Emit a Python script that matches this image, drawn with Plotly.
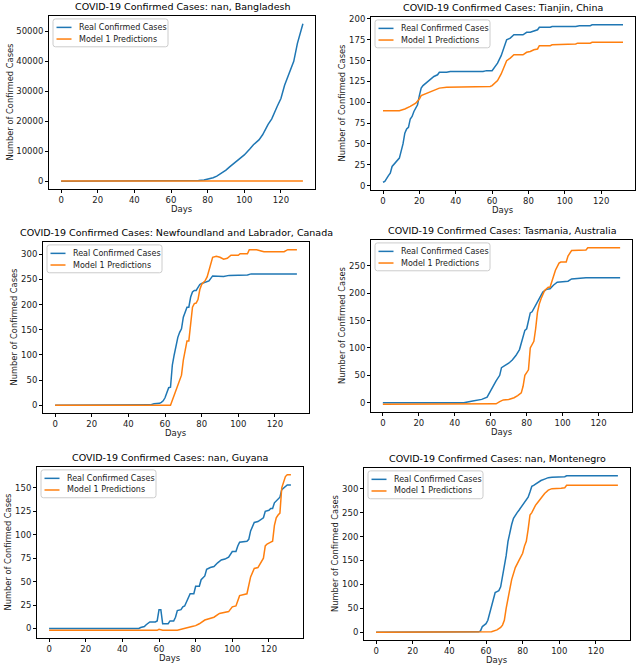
import plotly.graph_objects as go

# ---------------- data ----------------
titles = [
    "COVID-19 Confirmed Cases: nan, Bangladesh",
    "COVID-19 Confirmed Cases: Tianjin, China",
    "COVID-19 Confirmed Cases: Newfoundland and Labrador, Canada",
    "COVID-19 Confirmed Cases: Tasmania, Australia",
    "COVID-19 Confirmed Cases: nan, Guyana",
    "COVID-19 Confirmed Cases: nan, Montenegro",
]
series_names = ["Real Confirmed Cases", "Model 1 Predictions"]
x_ticks = [0, 20, 40, 60, 80, 100, 120]

bgd_real_days = [0, 60, 70, 75, 78, 80, 83, 85, 88, 90, 92, 95, 98, 100, 103, 105, 108, 110, 113, 115,
                 118, 120, 122, 125, 127, 129, 131, 132]
bgd_real_cases = [0, 0, 40, 250, 450, 700, 1200, 1700, 2800, 3700, 4800, 6200, 7800, 8800, 10800, 12200,
                  13800, 15500, 19000, 20800, 25000, 27600, 32000, 36500, 40000, 46000, 50000, 52500]
bgd_model_days = [0, 132]
bgd_model_cases = [60, 60]

tj_real_days = [0, 1, 3, 4, 5, 7, 9, 11, 12, 13, 14, 15, 16, 17, 19, 20, 21, 22, 24, 26, 28, 30, 31, 35, 37,
                55, 57, 60, 62, 63, 65, 66, 68, 70, 72, 77, 79, 81, 83, 85, 86, 92, 93, 106, 108, 114, 115, 132]
tj_real_cases = [4, 5, 12, 15, 23, 28, 33, 50, 63, 68, 70, 80, 83, 89, 97, 108, 117, 120, 124, 127, 131, 133,
                 136, 136, 137, 137, 138, 138, 145, 147, 156, 162, 175, 177, 181, 181, 184, 184, 186, 187, 190,
                 190, 191, 191, 192, 192, 193, 193]
tj_model_days = [0, 9, 12, 15, 18, 20, 21, 23, 25, 27, 29, 31, 35, 59, 60, 62, 63, 65, 67, 68, 70, 72, 77, 79,
                 81, 83, 85, 86, 92, 93, 106, 107, 114, 115, 132]
tj_model_cases = [90, 90, 92, 95, 99, 104, 108, 110, 112, 114, 116, 117, 118, 119, 120, 124, 126, 134, 146, 150,
                  153, 157, 157, 160, 161, 163, 164, 168, 168, 169, 170, 171, 171, 172, 172]

nl_real_days = [0, 52, 54, 57, 58, 59, 60, 61, 62, 63, 64, 65, 66, 67, 68, 69, 70, 71, 72, 73, 74, 75, 76, 77,
                78, 79, 80, 82, 84, 86, 90, 92, 95, 105, 107, 113, 115, 125, 127, 132]
nl_real_cases = [0, 1, 3, 4, 6, 9, 15, 27, 35, 36, 80, 100, 120, 135, 145, 152, 175, 185, 195, 195, 215, 225,
                 228, 228, 235, 240, 242, 245, 247, 257, 257, 256, 258, 259, 261, 261, 260, 260, 261, 261]
nl_model_days = [0, 63, 65, 67, 69, 70, 71, 72, 73, 74, 75, 76, 77, 78, 79, 80, 82, 83, 85, 86, 88, 90, 92, 94,
                 96, 100, 101, 105, 106, 110, 113, 114, 125, 127, 132]
nl_model_cases = [0, 0, 20, 40, 60, 90, 110, 128, 128, 160, 195, 202, 203, 210, 230, 240, 248, 255, 280, 294,
                  296, 294, 290, 292, 298, 298, 301, 301, 309, 309, 306, 305, 305, 309, 309]

tas_real_days = [0, 45, 50, 55, 58, 60, 61, 63, 65, 66, 68, 70, 72, 74, 76, 78, 79, 80, 81, 82, 83, 84, 85, 87,
                 89, 91, 93, 95, 97, 100, 103, 105, 113, 132]
tas_real_cases = [0, 0, 3, 6, 10, 22, 30, 40, 50, 64, 68, 72, 78, 86, 97, 120, 132, 135, 150, 164, 166, 172,
                  180, 192, 202, 207, 208, 215, 220, 221, 222, 226, 228, 228]
tas_model_days = [0, 60, 63, 65, 67, 70, 73, 75, 77, 78, 79, 80, 81, 82, 83, 84, 85, 86, 87, 88, 90, 92, 93,
                  94, 96, 98, 99, 102, 103, 105, 113, 114, 132]
tas_model_cases = [-3, -3, -2, 2, 5, 6, 9, 13, 18, 30, 50, 55, 60, 100, 107, 112, 135, 165, 180, 190, 205,
                   211, 211, 222, 242, 255, 257, 257, 268, 278, 279, 283, 283]

guy_real_days = [0, 49, 50, 52, 53, 55, 58, 59, 60, 61, 62, 65, 66, 68, 69, 70, 72, 73, 74, 75, 76, 77, 79,
                 80, 82, 83, 85, 86, 88, 90, 92, 94, 96, 98, 100, 102, 103, 104, 108, 109, 110, 112, 114, 116,
                 117, 118, 120, 121, 122, 123, 125, 126, 127, 128, 130, 132]
guy_real_cases = [0, 0, 1, 2, 4, 7, 7, 8, 20, 20, 5, 5, 8, 8, 12, 19, 20, 23, 24, 29, 33, 37, 37, 45, 45, 52,
                  56, 63, 65, 66, 70, 73, 74, 76, 82, 82, 88, 92, 93, 95, 104, 113, 114, 117, 118, 125, 126,
                  128, 128, 134, 138, 140, 148, 150, 153, 153]
guy_model_days = [0, 59, 60, 62, 70, 75, 78, 80, 82, 85, 88, 90, 93, 96, 98, 100, 102, 104, 107, 108, 110,
                  112, 114, 116, 117, 118, 119, 121, 122, 123, 124, 125, 126, 127, 128, 129, 130, 132]
guy_model_cases = [-2, -2, -1, -2, -2, 0, 2, 3, 5, 9, 11, 12, 16, 17, 18, 23, 24, 35, 36, 37, 55, 64, 65, 72,
                   75, 88, 90, 92, 93, 110, 118, 121, 123, 150, 156, 162, 164, 164]

mne_real_days = [0, 55, 56, 57, 58, 59, 60, 61, 62, 63, 64, 65, 66, 67, 68, 69, 70, 71, 72, 73, 74, 75, 76, 77,
                 78, 79, 80, 81, 82, 83, 84, 85, 86, 88, 90, 92, 94, 96, 100, 103, 104, 132]
mne_real_cases = [0, 0, 1, 3, 12, 15, 18, 25, 40, 55, 70, 83, 85, 87, 95, 115, 135, 160, 190, 210, 225, 238,
                  245, 250, 255, 260, 265, 270, 276, 282, 293, 305, 307, 312, 317, 320, 323, 324, 325, 325, 327, 327]
mne_model_days = [0, 55, 63, 66, 68, 69, 70, 71, 72, 73, 74, 75, 76, 78, 80, 81, 82, 83, 84, 85, 86, 87, 88,
                  90, 92, 94, 96, 101, 103, 104, 132]
mne_model_cases = [0, 0, 1, 5, 10, 15, 25, 50, 75, 90, 110, 125, 135, 150, 165, 180, 190, 215, 245, 250, 258,
                   265, 270, 280, 290, 297, 300, 301, 302, 307, 307]

y_dticks = [10000, 25, 50, 50, 25, 50]

panel_data = [
    (bgd_real_days, bgd_real_cases, bgd_model_days, bgd_model_cases),
    (tj_real_days, tj_real_cases, tj_model_days, tj_model_cases),
    (nl_real_days, nl_real_cases, nl_model_days, nl_model_cases),
    (tas_real_days, tas_real_cases, tas_model_days, tas_model_cases),
    (guy_real_days, guy_real_cases, guy_model_days, guy_model_cases),
    (mne_real_days, mne_real_cases, mne_model_days, mne_model_cases),
]

# ---------------- layout (pixel boxes: left, top, right, bottom) ----------------
W, H = 640, 665
boxes = [
    (49, 13, 315, 187),
    (371, 14, 635, 188),
    (43, 240, 309, 412),
    (371, 238, 632, 411),
    (37, 466, 303, 638),
    (364, 467, 630, 640),
]
ytitle_off = [39, 29, 29, 29, 29, 29]

BLUE = "#1f77b4"
ORANGE = "#ff7f0e"
FONT = "DejaVu Sans"
TXT = "#1a1a1a"

fig = go.Figure()
layout = dict(
    width=W, height=H, margin=dict(l=0, r=0, t=0, b=0),
    paper_bgcolor="white", plot_bgcolor="white",
    font=dict(family=FONT, size=8, color=TXT),
    showlegend=False,
)
annotations = []
shapes = []


def px_x(v):
    return v / W


def px_y(v):
    return 1 - v / H


def rounded_rect(x0, y0, x1, y1, r):
    # pixel coords -> paper path
    X = px_x
    Y = px_y
    return (f"M {X(x0 + r)} {Y(y0)} L {X(x1 - r)} {Y(y0)} Q {X(x1)} {Y(y0)} {X(x1)} {Y(y0 + r)} "
            f"L {X(x1)} {Y(y1 - r)} Q {X(x1)} {Y(y1)} {X(x1 - r)} {Y(y1)} "
            f"L {X(x0 + r)} {Y(y1)} Q {X(x0)} {Y(y1)} {X(x0)} {Y(y1 - r)} "
            f"L {X(x0)} {Y(y0 + r)} Q {X(x0)} {Y(y0)} {X(x0 + r)} {Y(y0)} Z")


for i, ((rd, rc, md, mc), (l, t, r, b)) in enumerate(zip(panel_data, boxes)):
    k = "" if i == 0 else str(i + 1)
    fig.add_trace(go.Scatter(x=rd, y=rc, mode="lines", name=series_names[0],
                             line=dict(color=BLUE, width=1.5), xaxis="x" + k, yaxis="y" + k))
    fig.add_trace(go.Scatter(x=md, y=mc, mode="lines", name=series_names[1],
                             line=dict(color=ORANGE, width=1.5), xaxis="x" + k, yaxis="y" + k))
    all_y = rc + mc
    ymin, ymax = min(all_y), max(all_y)
    pad = 0.05 * (ymax - ymin)
    xmin, xmax = min(rd + md), max(rd + md)
    xpad = 0.05 * (xmax - xmin)
    axis_common = dict(showline=True, linecolor="black", linewidth=1, mirror=True,
                       ticks="outside", ticklen=3, tickwidth=1, tickcolor="black",
                       showgrid=False, zeroline=False,
                       tickfont=dict(family=FONT, size=8.5, color=TXT))
    layout["xaxis" + k] = dict(domain=[px_x(l), px_x(r)], anchor="y" + k,
                               range=[xmin - xpad, xmax + xpad], tickvals=x_ticks, **axis_common)
    layout["yaxis" + k] = dict(domain=[px_y(b), px_y(t)], anchor="x" + k,
                               range=[ymin - pad, ymax + pad], dtick=y_dticks[i], tick0=0,
                               tickformat="d", **axis_common)

    # legend (drawn in the upper-left corner of each panel)
    lx0, ly0 = l + 4, t + 3
    shapes.append(dict(type="path", path=rounded_rect(lx0, ly0, lx0 + 115, ly0 + 28, 2.5),
                       xref="paper", yref="paper", line=dict(color="#cccccc", width=1),
                       fillcolor="rgba(255,255,255,0.8)"))
    for j, (name, col) in enumerate(zip(series_names, [BLUE, ORANGE])):
        yy = ly0 + 8.5 + j * 11.7
        shapes.append(dict(type="line", x0=px_x(lx0 + 3.5), x1=px_x(lx0 + 18.5), y0=px_y(yy), y1=px_y(yy),
                           xref="paper", yref="paper", line=dict(color=col, width=1.5)))
        annotations.append(dict(text=name, x=px_x(lx0 + 24), y=px_y(yy), xref="paper", yref="paper",
                                xanchor="left", yanchor="middle", showarrow=False,
                                font=dict(family=FONT, size=8, color=TXT)))

    cx = (l + r) / 2
    annotations.append(dict(text=titles[i], x=px_x(cx), y=px_y(t - 2), xref="paper", yref="paper",
                            xanchor="center", yanchor="bottom", showarrow=False,
                            font=dict(family=FONT, size=9.5, color="black")))
    annotations.append(dict(text="Days", x=px_x(cx), y=px_y(b + 20), xref="paper", yref="paper",
                            xanchor="center", yanchor="middle", showarrow=False,
                            font=dict(family=FONT, size=8.5, color=TXT)))
    annotations.append(dict(text="Number of Confirmed Cases", x=px_x(l - ytitle_off[i]),
                            y=px_y((t + b) / 2), xref="paper", yref="paper",
                            xanchor="center", yanchor="middle", textangle=-90, showarrow=False,
                            font=dict(family=FONT, size=8.3, color=TXT)))

layout["annotations"] = annotations
layout["shapes"] = shapes
fig.update_layout(**layout)
fig.write_html("out.html", config={"displayModeBar": False},
               post_script="document.body.style.margin='0';document.body.style.padding='0';")
